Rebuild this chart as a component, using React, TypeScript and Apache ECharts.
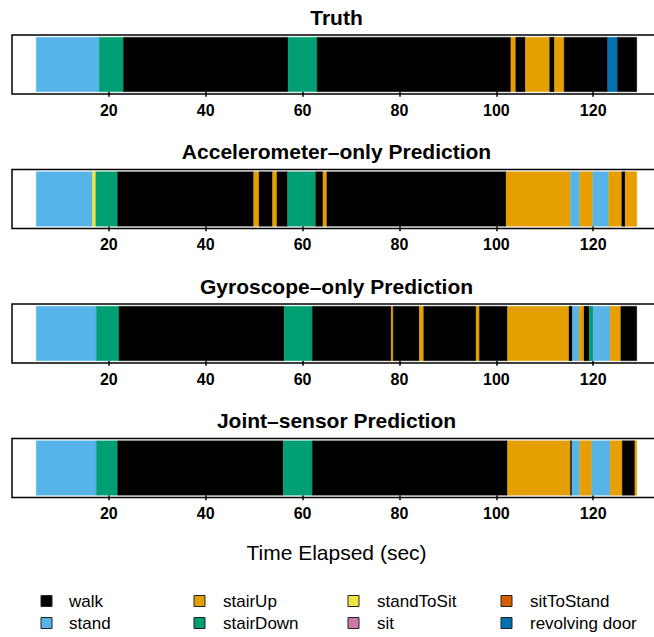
import React, { useEffect, useRef } from "react";
import * as echarts from "echarts";

const categories = ["walk", "stand", "stairUp", "stairDown", "standToSit", "sit", "sitToStand", "revolving door"];
const categoryColors = ["#000000", "#56B4E9", "#E69F00", "#009E73", "#F0E442", "#CC79A7", "#D55E00", "#0072B2"];

const panelTitles = ["Truth", "Accelerometer–only Prediction", "Gyroscope–only Prediction", "Joint–sensor Prediction"];
const tickValues = [20, 40, 60, 80, 100, 120];

type Seg = [number, number, string];

const truthSegments: Seg[] = [
  [5, 18, "stand"], [18, 23, "stairDown"], [23, 57, "walk"], [57, 63, "stairDown"],
  [63, 103, "walk"], [103, 104, "stairUp"], [104, 106, "walk"], [106, 111, "stairUp"],
  [111, 112, "walk"], [112, 114, "stairUp"], [114, 123, "walk"], [123, 125, "revolving door"],
  [125, 129, "walk"],
];

const accelSegments: Seg[] = [
  [5, 16.6, "stand"], [16.6, 17.3, "standToSit"], [17.3, 21.8, "stairDown"], [21.8, 49.9, "walk"],
  [49.9, 51.0, "stairUp"], [51.0, 53.8, "walk"], [53.8, 54.7, "stairUp"], [54.7, 56.9, "walk"],
  [56.9, 62.7, "stairDown"], [62.7, 64.2, "walk"], [64.2, 65.0, "stairUp"], [65.0, 102.0, "walk"],
  [102.0, 115.3, "stairUp"], [115.3, 117.2, "stand"], [117.2, 119.9, "stairUp"], [119.9, 123.2, "stand"],
  [123.2, 125.9, "stairUp"], [125.9, 126.6, "walk"], [126.6, 129, "stairUp"],
];

const gyroSegments: Seg[] = [
  [5, 17.4, "stand"], [17.4, 22.1, "stairDown"], [22.1, 56.2, "walk"], [56.2, 62.0, "stairDown"],
  [62.0, 78.3, "walk"], [78.3, 78.7, "stairUp"], [78.7, 84.1, "walk"], [84.1, 85.0, "stairUp"],
  [85.0, 95.8, "walk"], [95.8, 96.5, "stairUp"], [96.5, 102.3, "walk"], [102.3, 115.0, "stairUp"],
  [115.0, 115.7, "walk"], [115.7, 117.1, "stand"], [117.1, 118.1, "stairUp"], [118.1, 119.2, "walk"],
  [119.2, 120.0, "stairDown"], [120.0, 123.5, "stand"], [123.5, 125.7, "stairUp"], [125.7, 129, "walk"],
];

const jointSegments: Seg[] = [
  [5, 17.4, "stand"], [17.4, 21.8, "stairDown"], [21.8, 56.0, "walk"], [56.0, 62.0, "stairDown"],
  [62.0, 102.3, "walk"], [102.3, 115.3, "stairUp"], [115.3, 115.6, "walk"], [115.6, 117.2, "stand"],
  [117.2, 119.7, "stairUp"], [119.7, 123.5, "stand"], [123.5, 126.0, "stairUp"], [126.0, 128.6, "walk"],
  [128.6, 129, "stairUp"],
];

const panels: Seg[][] = [truthSegments, accelSegments, gyroSegments, jointSegments];

const FONT = '"Liberation Sans", Arial, Helvetica, sans-serif';

export default function App() {
  const ref = useRef<HTMLDivElement>(null);
  useEffect(() => {
    if (!ref.current) return;
    const chart = echarts.init(ref.current, null, { renderer: "svg" });
    const tops = [35, 169.5, 304, 438.5];
    const gridH = 59;
    const gridLeft = 12;
    const gridW = 649;
    const centerX = gridLeft + 324.5;

    const grids = tops.map((t) => ({
      left: gridLeft,
      top: t,
      width: gridW,
      height: gridH,
      containLabel: false,
      outerBoundsMode: "none",
      show: true,
      borderColor: "#000",
      borderWidth: 1.5,
      backgroundColor: "transparent",
    }));
    const xAxes = tops.map((_, i) => ({
      gridIndex: i,
      type: "value",
      min: 0,
      max: 134,
      interval: 20,
      axisLine: { show: false },
      splitLine: { show: false },
      axisTick: { show: true, length: 5, lineStyle: { color: "#000", width: 1.5 }, customValues: tickValues },
      axisLabel: {
        customValues: tickValues,
        color: "#000",
        fontSize: 16,
        fontWeight: "bold",
        fontFamily: FONT,
        margin: 8,
      },
    }));
    const yAxes = tops.map((_, i) => ({ gridIndex: i, type: "value", min: -0.04, max: 1.04, show: false }));
    const series = panels.map((segs, i) => ({
      type: "custom",
      xAxisIndex: i,
      yAxisIndex: i,
      encode: { x: [0, 1] },
      data: segs.map((s) => [s[0], s[1], categories.indexOf(s[2])]),
      renderItem: (params: any, api: any) => {
        const a = api.coord([api.value(0), 0]);
        const b = api.coord([api.value(1), 1]);
        const c = categoryColors[api.value(2)];
        return {
          type: "rect",
          shape: { x: a[0], y: b[1], width: b[0] - a[0], height: a[1] - b[1] },
          style: { fill: c, stroke: c, lineWidth: 0.3 },
        };
      },
    }));

    const graphics: any[] = [];
    panelTitles.forEach((t, i) => {
      graphics.push({
        type: "text",
        x: centerX,
        y: tops[i] - 18,
        style: {
          text: t,
          fill: "#000",
          font: `bold 21px ${FONT}`,
          textAlign: "center",
          textVerticalAlign: "middle",
          align: "center",
          verticalAlign: "middle",
        },
      });
    });
    graphics.push({
      type: "text",
      x: centerX,
      y: 552,
      style: {
        text: "Time Elapsed (sec)",
        fill: "#000",
        font: `21px ${FONT}`,
        textAlign: "center",
        textVerticalAlign: "middle",
        align: "center",
        verticalAlign: "middle",
      },
    });
    const colSquareX = [41, 194, 348, 501];
    const colTextX = [69, 223, 377, 530];
    const rowY = [601, 623];
    categories.forEach((name, k) => {
      const col = Math.floor(k / 2);
      const row = k % 2;
      graphics.push({
        type: "rect",
        shape: { x: colSquareX[col], y: rowY[row] - 5.5, width: 11, height: 11 },
        style: { fill: categoryColors[k], stroke: "#222", lineWidth: 1 },
      });
      graphics.push({
        type: "text",
        x: colTextX[col],
        y: rowY[row],
        style: {
          text: name,
          fill: "#000",
          font: `17px ${FONT}`,
          textAlign: "left",
          textVerticalAlign: "middle",
          align: "left",
          verticalAlign: "middle",
        },
      });
    });

    chart.setOption({
      animation: false,
      grid: grids,
      xAxis: xAxes,
      yAxis: yAxes,
      series,
      graphic: graphics,
    } as any);
    return () => chart.dispose();
  }, []);
  return <div ref={ref} style={{ width: 654, height: 637, position: "absolute", left: 0, top: 0 }} />;
}
